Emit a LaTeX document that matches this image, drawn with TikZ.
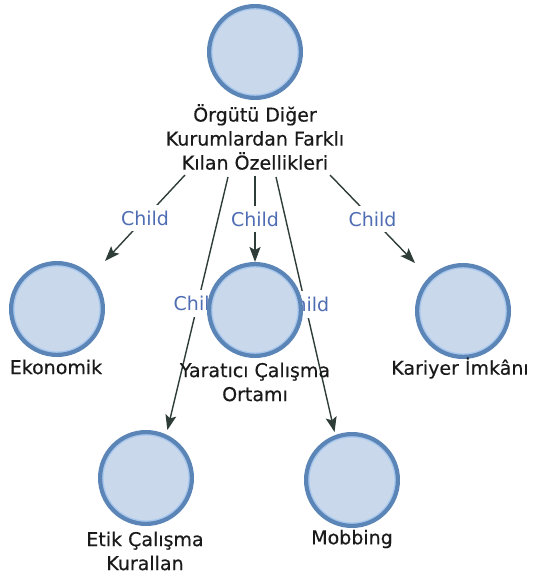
\documentclass[tikz,border=0pt]{standalone}
\usepackage{fontspec}
\setmainfont{DejaVu Sans}
\newfontfamily\vfont[FakeBold=0.4]{DejaVu Sans}
\usetikzlibrary{arrows.meta}
\pgfdeclarelayer{bg}
\pgfsetlayers{bg,main}
\definecolor{vfill}{HTML}{C9D8EB}
\definecolor{vring}{HTML}{A9C8EE}
\definecolor{vline}{HTML}{5A85B6}
\definecolor{eline}{HTML}{2E3D38}
\definecolor{lblc}{HTML}{4F6DB3}
\definecolor{txtc}{HTML}{1A1A1A}
\tikzset{
 vtx/.style={rectangle, minimum width=96pt, minimum height=96pt, inner sep=0pt, outer sep=0pt,
   path picture={
     \fill[vfill] (path picture bounding box.center) circle[radius=46pt];
     \draw[vring, line width=1.6pt] (path picture bounding box.center) circle[radius=43.2pt];
     \draw[vline, line width=4.2pt] (path picture bounding box.center) circle[radius=45.9pt];
   }},
 vtxt/.style={text=txtc, align=center, font=\vfont\fontsize{19}{24}\selectfont, inner sep=0pt},
 edge/.style={draw=eline, line width=1.4pt, -{Stealth[length=15pt,width=11pt,inset=3pt]}},
 lbl/.style={text=lblc, fill=white, font=\fontsize{19}{24}\selectfont, inner xsep=1.5pt, inner ysep=6pt},
}
\begin{document}
\begin{tikzpicture}[x=1pt,y=-1pt]
\begin{pgfonlayer}{bg}
\fill[white] (0,0) rectangle (534,577);
\end{pgfonlayer}
\useasboundingbox (0,0) rectangle (534,577);
% vertices
\node[vtx] (root) at (255,52) {};
\node[vtx] (eko) at (57,309) {};
\node[vtx] (yar) at (255,310) {};
\node[vtx] (kar) at (463,311) {};
\node[vtx] (etik) at (146,478) {};
\node[vtx] (mob) at (352,480) {};
% vertex texts
\node[vtxt] (rootlbl) at (255,137) {Örgütü Diğer\\Kurumlardan Farklı\\Kılan Özellikleri};
\node[vtxt] (ekolbl) at (56,367) {Ekonomik};
\node[vtxt] (yarlbl) at (255,382) {Yaratıcı Çalışma\\Ortamı};
\node[vtxt] (karlbl) at (460,368) {Kariyer İmkânı};
\node[vtxt] (etiklbl) at (145,551) {Etik Çalışma\\Kurallan};
\node[vtxt] (moblbl) at (352,539) {Mobbing};
% edge start points
\coordinate (s1) at (185,175);
\coordinate (s2) at (255,176);
\coordinate (s3) at (330,175);
\coordinate (s4) at (228,177);
\coordinate (s5) at (276,177);
\begin{pgfonlayer}{bg}
\draw[edge] (s1) -- (eko.north east) node[lbl, midway] {Child};
\draw[edge] (s2) -- (yar.north) node[lbl, midway] {Child};
\draw[edge] (s3) -- (kar.north west) node[lbl, midway] {Child};
\draw[edge] (s4) -- (etik.66) node[lbl, midway] {Child};
\draw[edge] (s5) -- (mob.110) node[lbl, midway] {Child};
\end{pgfonlayer}
\end{tikzpicture}
\end{document}
